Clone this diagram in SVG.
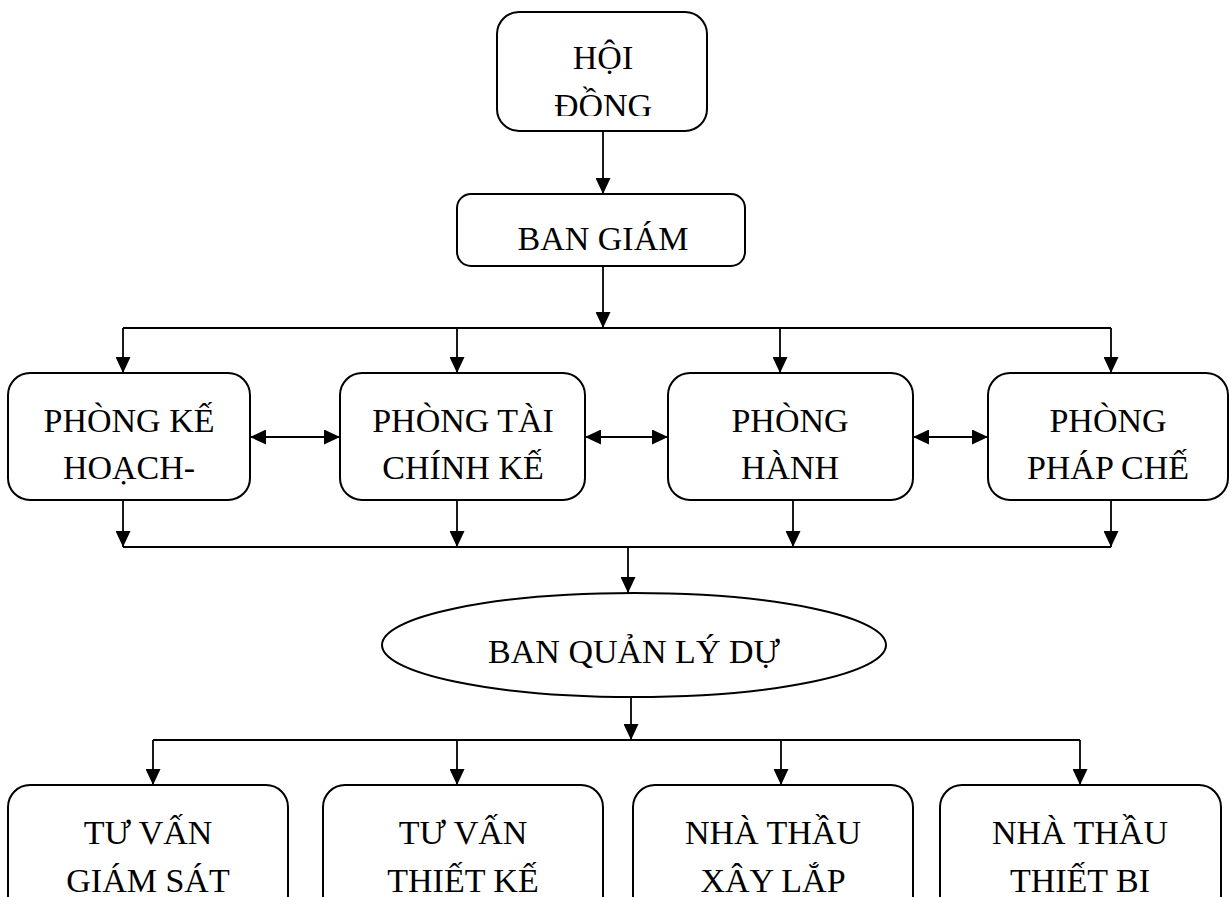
<svg xmlns="http://www.w3.org/2000/svg" width="1230" height="897" viewBox="0 0 1230 897">
<style>
.box{fill:#fff;stroke:#000;stroke-width:2}
.t{font-family:'Liberation Serif','DejaVu Serif',serif;font-size:34px;fill:#000;text-anchor:middle}
.c{fill:none;stroke:#000;stroke-width:1.8}
.a{marker-end:url(#ah)}
.d{marker-start:url(#ah);marker-end:url(#ah)}
</style>
<defs>
<marker id="ah" markerUnits="userSpaceOnUse" markerWidth="16" markerHeight="15" refX="16" refY="7.5" orient="auto-start-reverse" viewBox="0 0 16 15">
<path d="M0,0 L16,7.5 L0,15 z" fill="#000"/>
</marker>
<clipPath id="clipHD"><rect x="497" y="12" width="210" height="104"/></clipPath>
<clipPath id="clipBG"><rect x="457" y="194" width="288" height="66"/></clipPath>
</defs>
<rect width="1230" height="897" fill="#fff"/>
<g id="connectors">
<path class="c a" d="M603,131 V194"/>
<path class="c a" d="M603,266 V328"/>
<path class="c" d="M123,328 H1111"/>
<path class="c a" d="M123,328 V373"/>
<path class="c a" d="M457,328 V373"/>
<path class="c a" d="M780,328 V373"/>
<path class="c a" d="M1111,328 V373"/>
<path class="c d" d="M250,437 H340"/>
<path class="c d" d="M585,437 H668"/>
<path class="c d" d="M913,437 H988"/>
<path class="c a" d="M123,500 V547"/>
<path class="c a" d="M457,500 V547"/>
<path class="c a" d="M793,500 V547"/>
<path class="c a" d="M1111,500 V547"/>
<path class="c" d="M123,547 H1111"/>
<path class="c a" d="M628,547 V593"/>
<path class="c a" d="M631,697 V740"/>
<path class="c" d="M153,740 H1080"/>
<path class="c a" d="M153,740 V785"/>
<path class="c a" d="M457,740 V785"/>
<path class="c a" d="M781,740 V785"/>
<path class="c a" d="M1080,740 V785"/>
</g>
<g id="hoi-dong">
<rect class="box" x="497" y="12" width="210" height="119" rx="22"/>
<g clip-path="url(#clipHD)">
<text class="t" x="603" y="69">HỘI</text>
<text class="t" x="603" y="117">ĐỒNG</text>
</g>
</g>
<g id="ban-giam">
<rect class="box" x="457" y="194" width="288" height="72" rx="14"/>
<g clip-path="url(#clipBG)">
<text class="t" x="603" y="250">BAN GIÁM</text>
</g>
</g>
<g id="phong-ke-hoach">
<rect class="box" x="8" y="373" width="242" height="127" rx="22"/>
<text class="t" x="129" y="432">PHÒNG KẾ</text>
<text class="t" x="129" y="479">HOẠCH-</text>
</g>
<g id="phong-tai-chinh">
<rect class="box" x="340" y="373" width="245" height="127" rx="22"/>
<text class="t" x="463" y="432">PHÒNG TÀI</text>
<text class="t" x="463" y="479">CHÍNH KẾ</text>
</g>
<g id="phong-hanh-chinh">
<rect class="box" x="668" y="373" width="245" height="127" rx="22"/>
<text class="t" x="790" y="432">PHÒNG</text>
<text class="t" x="790" y="479">HÀNH</text>
</g>
<g id="phong-phap-che">
<rect class="box" x="988" y="373" width="240" height="127" rx="22"/>
<text class="t" x="1108" y="432">PHÒNG</text>
<text class="t" x="1108" y="479">PHÁP CHẾ</text>
</g>
<g id="ban-quan-ly">
<ellipse class="box" cx="634" cy="645" rx="252" ry="52"/>
<text class="t" x="634" y="663">BAN QUẢN LÝ DỰ</text>
</g>
<g id="tu-van-giam-sat">
<rect class="box" x="8" y="785" width="280" height="160" rx="22"/>
<text class="t" x="148" y="844">TƯ VẤN</text>
<text class="t" x="148" y="892">GIÁM SÁT</text>
</g>
<g id="tu-van-thiet-ke">
<rect class="box" x="323" y="785" width="280" height="160" rx="22"/>
<text class="t" x="463" y="844">TƯ VẤN</text>
<text class="t" x="463" y="892">THIẾT KẾ</text>
</g>
<g id="nha-thau-xay-lap">
<rect class="box" x="633" y="785" width="280" height="160" rx="22"/>
<text class="t" x="773" y="844">NHÀ THẦU</text>
<text class="t" x="773" y="892">XÂY LẮP</text>
</g>
<g id="nha-thau-thiet-bi">
<rect class="box" x="940" y="785" width="281" height="160" rx="22"/>
<text class="t" x="1080" y="844">NHÀ THẦU</text>
<text class="t" x="1080" y="892">THIẾT BI</text>
</g>
</svg>
